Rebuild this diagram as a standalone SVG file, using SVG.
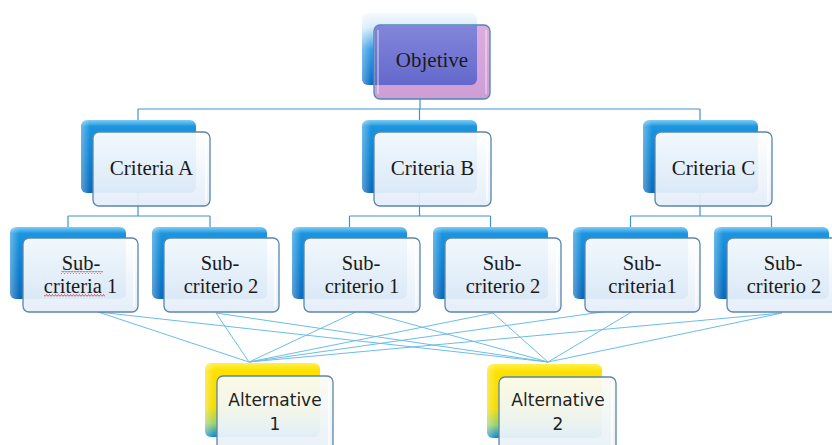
<svg xmlns="http://www.w3.org/2000/svg" width="832" height="445" viewBox="0 0 832 445">
<defs>
<linearGradient id="gBack" x1="0" y1="0" x2="0" y2="1">
<stop offset="0" stop-color="#7fcdf4"/>
<stop offset="0.09" stop-color="#1b95e0"/>
<stop offset="0.6" stop-color="#0c7fd0"/>
<stop offset="1" stop-color="#0a6bbd"/>
</linearGradient>
<linearGradient id="gBackH" x1="0" y1="0" x2="1" y2="0">
<stop offset="0" stop-color="#ffffff" stop-opacity="0.35"/>
<stop offset="0.08" stop-color="#ffffff" stop-opacity="0"/>
<stop offset="1" stop-color="#ffffff" stop-opacity="0"/>
</linearGradient>
<linearGradient id="gObjBack" x1="0" y1="0" x2="0" y2="1">
<stop offset="0" stop-color="#f6f9fd"/>
<stop offset="0.2" stop-color="#d6ecfa"/>
<stop offset="0.5" stop-color="#3a9ee6"/>
<stop offset="1" stop-color="#0a6fc6"/>
</linearGradient>
<linearGradient id="gFront" x1="0" y1="0" x2="0" y2="1">
<stop offset="0" stop-color="#ffffff"/>
<stop offset="1" stop-color="#e3edf9"/>
</linearGradient>
<linearGradient id="gPink" x1="0" y1="0" x2="0" y2="1">
<stop offset="0" stop-color="#dcaedf"/>
<stop offset="1" stop-color="#cf9dd6"/>
</linearGradient>
<linearGradient id="gViolet" x1="0" y1="0" x2="0" y2="1">
<stop offset="0" stop-color="#8286da"/>
<stop offset="1" stop-color="#6468cc"/>
</linearGradient>
<linearGradient id="gYellow" x1="0" y1="0" x2="0" y2="1">
<stop offset="0" stop-color="#fff04a"/>
<stop offset="0.1" stop-color="#ffe100"/>
<stop offset="0.6" stop-color="#f5dc00"/>
<stop offset="0.82" stop-color="#9ad26a"/>
<stop offset="1" stop-color="#0a8ad8"/>
</linearGradient>
<linearGradient id="gAltFront" x1="0" y1="0" x2="0" y2="1">
<stop offset="0" stop-color="#fbfbf2"/>
<stop offset="1" stop-color="#e6f0fa"/>
</linearGradient>
<pattern id="wavy" width="3" height="3" patternUnits="userSpaceOnUse">
<path d="M0 2.5 L1.5 0.5 L3 2.5" fill="none" stroke="#e03030" stroke-width="0.8"/>
</pattern>
</defs>
<style>
.back{fill:url(#gBack)}
.backh{fill:url(#gBackH)}
.front{fill:url(#gFront);fill-opacity:0.94;stroke:#5a86ab;stroke-width:1.3}
.inner{fill:none;stroke:#ffffff;stroke-opacity:0.9;stroke-width:1.5}
.alt-back{fill:url(#gYellow)}
.alt-front{fill:url(#gAltFront);fill-opacity:0.95;stroke:#5a86ab;stroke-width:1.3}
.tree{stroke:#3f94cf;stroke-width:1.2;fill:none}
.cross{stroke:#6bbde9;stroke-width:1;fill:none}
.t{font-family:"Liberation Serif","Times New Roman",serif;font-size:21px;fill:#1a1a1a;text-anchor:middle}
.ts{font-family:"Liberation Serif","Times New Roman",serif;font-size:20.5px;fill:#1a1a1a;text-anchor:middle}
.ta{font-family:"DejaVu Sans",sans-serif;font-size:17px;fill:#222222;text-anchor:middle}
</style>
<rect width="832" height="445" fill="#ffffff"/>

<g id="connectors">
<path class="tree" d="M420 85 V109 M138 109 H700 M138 109 V120 M419.5 109 V120 M700 109 V120"/>
<path class="tree" d="M138 193 V216 M419.5 193 V216 M700 193 V216"/>
<path class="tree" d="M68 216 H210 M68 216 V227 M210 216 V227 M349.5 216 H490.5 M349.5 216 V227 M490.5 216 V227 M630.5 216 H771.5 M630.5 216 V227 M771.5 216 V227"/>
<g class="cross">
<path d="M98 312 L249 362 M98 312 L548 362"/>
<path d="M216 313 L249 362 M216 313 L548 362"/>
<path d="M360 310 L249 362 M360 310 L548 362"/>
<path d="M493 313 L249 362 M493 313 L548 362"/>
<path d="M623 309 L249 362 M635 310 L548 362"/>
<path d="M782 313 L249 362 M782 313 L548 362"/>
</g>
</g>

<g id="objetive">
<rect x="362" y="13" width="115" height="72" rx="6" fill="url(#gObjBack)"/>
<rect x="362" y="13" width="115" height="72" rx="6" class="backh"/>
<rect x="374" y="25" width="116" height="74" rx="6" fill="url(#gPink)" stroke="#4f86b0" stroke-width="1.3"/>
<path d="M375 26 H477 V79 A6 6 0 0 1 471 85 H375 Z" fill="url(#gViolet)"/>
<path d="M378 30 V94" stroke="#ffffff" stroke-opacity="0.5" stroke-width="1.5"/>
<path d="M486 30 V94" stroke="#ffffff" stroke-opacity="0.45" stroke-width="1.5"/>
<text class="t" x="432" y="67">Objetive</text>
</g>

<g id="criteriaA">
<rect class="back" x="81" y="120" width="115" height="73" rx="6"/>
<rect class="backh" x="81" y="120" width="115" height="73" rx="6"/>
<rect class="front" x="93" y="132" width="117" height="74" rx="6"/>
<path class="inner" d="M206 137 V201" stroke-opacity="0.8"/>
<text class="t" x="151.5" y="175">Criteria A</text>
</g>

<g id="criteriaB">
<rect class="back" x="362" y="120" width="115" height="73" rx="6"/>
<rect class="backh" x="362" y="120" width="115" height="73" rx="6"/>
<rect class="front" x="374" y="132" width="117" height="74" rx="6"/>
<path class="inner" d="M487 137 V201"/>
<text class="t" x="432.5" y="175">Criteria B</text>
</g>

<g id="criteriaC">
<rect class="back" x="643" y="120" width="115" height="73" rx="6"/>
<rect class="backh" x="643" y="120" width="115" height="73" rx="6"/>
<rect class="front" x="655" y="132" width="117" height="74" rx="6"/>
<path class="inner" d="M768 137 V201"/>
<text class="t" x="713.5" y="175">Criteria C</text>
</g>

<g id="sub1">
<rect class="back" x="10" y="227" width="116" height="72" rx="6"/>
<rect class="backh" x="10" y="227" width="116" height="72" rx="6"/>
<rect class="front" x="23" y="238" width="115" height="74" rx="6"/>
<path class="inner" d="M134 243 V307"/>
<text class="ts" x="81" y="269.5">Sub-</text>
<text class="ts" x="80.5" y="292.5">criteria 1</text>
<rect x="61" y="271" width="42" height="3" fill="url(#wavy)"/>
<rect x="44" y="294" width="61" height="3" fill="url(#wavy)"/>
</g>

<g id="sub2">
<rect class="back" x="152" y="227" width="115" height="72" rx="6"/>
<rect class="backh" x="152" y="227" width="115" height="72" rx="6"/>
<rect class="front" x="164" y="238" width="115" height="74" rx="6"/>
<path class="inner" d="M275 243 V307"/>
<text class="ts" x="220" y="269.5">Sub-</text>
<text class="ts" x="221" y="292.5">criterio 2</text>
</g>

<g id="sub3">
<rect class="back" x="292" y="227" width="115" height="72" rx="6"/>
<rect class="backh" x="292" y="227" width="115" height="72" rx="6"/>
<rect class="front" x="304" y="238" width="116" height="74" rx="6"/>
<path class="inner" d="M416 243 V307"/>
<text class="ts" x="361" y="269.5">Sub-</text>
<text class="ts" x="362" y="292.5">criterio 1</text>
</g>

<g id="sub4">
<rect class="back" x="433" y="227" width="115" height="72" rx="6"/>
<rect class="backh" x="433" y="227" width="115" height="72" rx="6"/>
<rect class="front" x="445" y="238" width="116" height="74" rx="6"/>
<path class="inner" d="M557 243 V307"/>
<text class="ts" x="502" y="269.5">Sub-</text>
<text class="ts" x="503" y="292.5">criterio 2</text>
</g>

<g id="sub5">
<rect class="back" x="573" y="227" width="115" height="72" rx="6"/>
<rect class="backh" x="573" y="227" width="115" height="72" rx="6"/>
<rect class="front" x="585" y="238" width="115" height="74" rx="6"/>
<path class="inner" d="M696 243 V307"/>
<text class="ts" x="642" y="269.5">Sub-</text>
<text class="ts" x="642.5" y="292.5">criteria1</text>
</g>

<g id="sub6">
<rect class="back" x="714" y="227" width="115" height="72" rx="6"/>
<rect class="backh" x="714" y="227" width="115" height="72" rx="6"/>
<rect class="front" x="727" y="238" width="115" height="74" rx="6"/>
<text class="ts" x="783" y="269.5">Sub-</text>
<text class="ts" x="784" y="292.5">criterio 2</text>
</g>

<g id="alternative1">
<rect class="alt-back" x="205" y="363" width="115" height="74" rx="6"/>
<rect class="backh" x="205" y="363" width="115" height="74" rx="6"/>
<rect class="alt-front" x="217" y="376" width="116" height="80" rx="6"/>
<path class="inner" d="M329 381 V445"/>
<text class="ta" x="275" y="406">Alternative</text>
<text class="ta" x="275" y="430">1</text>
</g>

<g id="alternative2">
<rect class="alt-back" x="487" y="364" width="115" height="74" rx="6"/>
<rect class="backh" x="487" y="364" width="115" height="74" rx="6"/>
<rect class="alt-front" x="499" y="377" width="117" height="80" rx="6"/>
<path class="inner" d="M612 382 V445"/>
<text class="ta" x="558" y="406">Alternative</text>
<text class="ta" x="558" y="430">2</text>
</g>
</svg>
